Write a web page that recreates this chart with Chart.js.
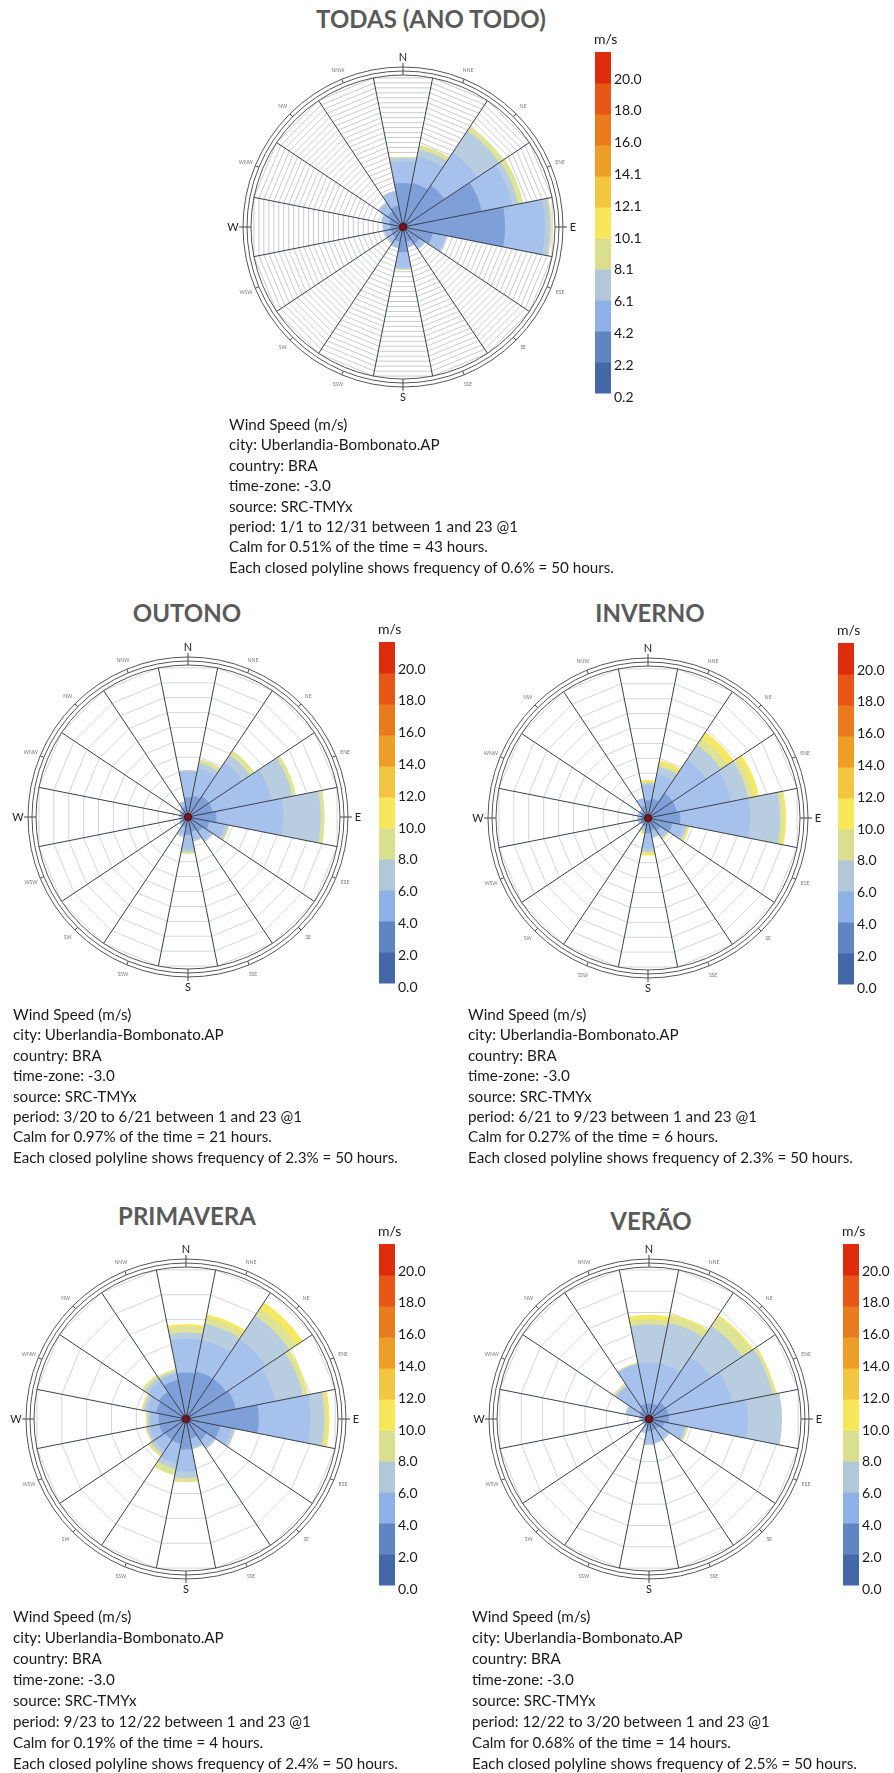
<!DOCTYPE html>
<html>
<head>
<meta charset="utf-8">
<script src="https://cdn.jsdelivr.net/npm/chart.js"></script>
<style>
  body { margin: 0; background: #fff; }
  #page { position: relative; width: 894px; height: 1773px; overflow: hidden; font-family: Lato, 'Open Sans', sans-serif; }
  canvas { position: absolute; }
  .title { position: absolute; font-weight: bold; font-size: 24px; line-height: 24px; color: #5a5a5a; white-space: nowrap; transform: translateX(-50%); }
  .info { position: absolute; font-size: 15.2px; line-height: 20.4px; color: #1a1a1a; white-space: nowrap; }
</style>
</head>
<body>
<div id="page">
  <div class="title" style="left:431px;top:7px">TODAS (ANO TODO)</div>
  <canvas id="roseAno" width="430" height="400" style="left:218px;top:27px"></canvas>
  <div class="info" id="infoAno" style="left:229px;top:414px"></div>

  <div class="title" style="left:187px;top:601px">OUTONO</div>
  <canvas id="roseOutono" width="430" height="400" style="left:3px;top:617px"></canvas>
  <div class="info" id="infoOutono" style="left:13px;top:1004px"></div>

  <div class="title" style="left:650px;top:601px">INVERNO</div>
  <canvas id="roseInverno" width="430" height="400" style="left:463px;top:618px"></canvas>
  <div class="info" id="infoInverno" style="left:468px;top:1004px"></div>

  <div class="title" style="left:187px;top:1204px">PRIMAVERA</div>
  <canvas id="rosePrimavera" width="430" height="400" style="left:1px;top:1219px"></canvas>
  <div class="info" id="infoPrimavera" style="left:13px;top:1606px;line-height:21px"></div>

  <div class="title" style="left:651px;top:1209px">VERÃO</div>
  <canvas id="roseVerao" width="430" height="400" style="left:464px;top:1219px"></canvas>
  <div class="info" id="infoVerao" style="left:472px;top:1606px;line-height:21px"></div>
</div>
<script>
const directions = ['N', 'NNE', 'NE', 'ENE', 'E', 'ESE', 'SE', 'SSE', 'S', 'SSW', 'SW', 'WSW', 'W', 'WNW', 'NW', 'NNW'];

// wedge colours per speed bin (0-2, 2-4, 4-6, 6-8, 8-10, 10-12 m/s)
const binColors = ['#5b7ebe', '#7f9fd9', '#a6c1ec', '#b9cde0', '#dfe398', '#f5e963'];
// colour bar, bottom to top
const barColors = ['#4467a8', '#5f85c3', '#8fb1e8', '#b2c7d8', '#d9df8e', '#f8e75a', '#f4c541', '#ee9d27', '#ea7a1e', '#e75616', '#df2c0c'];
const barTicksAno = ['0.2', '2.2', '4.2', '6.1', '8.1', '10.1', '12.1', '14.1', '16.0', '18.0', '20.0'];
const barTicksEstacao = ['0.0', '2.0', '4.0', '6.0', '8.0', '10.0', '12.0', '14.0', '16.0', '18.0', '20.0'];

// frequency (%) per speed bin, one row per bin, one value per direction
const freqAno = [
  [0.6, 0.6, 0.6, 0.6, 0.7, 0.5, 0.5, 0.4, 0.5, 0.4, 0.4, 0.4, 0.4, 0.4, 0.4, 0.5],
  [4.6, 4.7, 5.3, 8.9, 11.4, 3.1, 1.9, 1.4, 2.5, 1.4, 1.1, 1.1, 1.1, 1.3, 1.8, 2.1],
  [2.6, 3.2, 4.7, 3.7, 4.7, 1.5, 0.7, 0.6, 1.8, 0.7, 0.7, 0.7, 0.8, 0.9, 1.2, 1.7],
  [0.4, 0.9, 3.1, 0.7, 0.6, 0.2, 0.1, 0.1, 0.2, 0.1, 0.1, 0.1, 0.1, 0.1, 0.1, 0.1],
  [0.1, 0.5, 0.6, 0.6, 0.2, 0, 0, 0, 0.1, 0, 0, 0, 0, 0, 0, 0]
];
const freqOutono = [
  [0.6, 0.6, 0.6, 0.6, 0.8, 0.6, 0.6, 0.5, 0.6, 0.5, 0.5, 0.5, 0.5, 0.5, 0.5, 0.5],
  [2.4, 2.7, 3.2, 3.2, 3.5, 2.7, 2.1, 1.8, 2.1, 1.1, 0.6, 0.5, 0.5, 0.5, 0.6, 1.1],
  [3.9, 4.2, 6.1, 9.1, 10.1, 2.4, 1.5, 1.2, 2.1, 1.2, 0.5, 0.3, 0.3, 0.3, 0.5, 0.8],
  [0.2, 0.8, 1.4, 3.2, 5.7, 0.5, 0.3, 0.3, 0.5, 0.3, 0, 0, 0, 0, 0, 0],
  [0, 0.6, 0.8, 0.6, 0.6, 0.2, 0, 0, 0.3, 0, 0, 0, 0, 0, 0, 0]
];
const freqInverno = [
  [0.6, 0.6, 0.6, 0.6, 0.8, 0.6, 0.6, 0.5, 0.6, 0.5, 0.5, 0.5, 0.5, 0.5, 0.5, 0.5],
  [2.1, 2.4, 3.9, 3.9, 4.1, 3.2, 1.7, 1.4, 1.7, 0.8, 0.5, 0.6, 0.6, 0.6, 0.6, 1.4],
  [2.3, 3.8, 6.1, 8.3, 10.6, 1.7, 1.1, 0.9, 2.3, 0.6, 0.3, 0.5, 0.5, 0.5, 0.5, 1.2],
  [0.3, 1.1, 2.7, 2.7, 4.5, 0.5, 0.3, 0.3, 0.5, 0.2, 0, 0, 0, 0, 0, 0],
  [0.2, 0.5, 1.2, 0.8, 0.6, 0.2, 0.2, 0, 0.3, 0.2, 0, 0, 0, 0, 0, 0],
  [0.3, 0.5, 1.1, 0.8, 0.3, 0.2, 0, 0, 0.3, 0.2, 0, 0, 0, 0, 0, 0]
];
const freqPrimavera = [
  [0.5, 0.5, 0.5, 0.5, 0.5, 0.5, 0.5, 0.5, 0.5, 0.5, 0.5, 0.5, 0.5, 0.5, 0.5, 0.5],
  [3.9, 4.1, 4.1, 4.3, 6.4, 2.8, 1.9, 1.4, 2.4, 1.9, 1.9, 2.1, 2.1, 2.4, 2.6, 3.3],
  [3.2, 3.0, 4.5, 3.8, 4.9, 1.1, 0.8, 0.8, 2.1, 1.9, 1.2, 0.9, 0.8, 0.9, 1.2, 0.6],
  [0.6, 1.6, 2.7, 2.7, 1.3, 0.3, 0.2, 0.2, 0.6, 0.5, 0.4, 0.3, 0.2, 0.3, 0.4, 0.2],
  [0.6, 0.6, 0.8, 0.4, 0.3, 0, 0, 0, 0.4, 0.6, 0.3, 0.1, 0.2, 0.2, 0.3, 0.2],
  [0.2, 0.3, 0.7, 0.1, 0.2, 0, 0, 0, 0, 0, 0, 0, 0, 0, 0, 0]
];
const freqVerao = [
  [0.5, 0.5, 0.5, 0.5, 0.5, 0.5, 0.5, 0.5, 0.5, 0.3, 0.3, 0.3, 0.3, 0.3, 0.3, 0.5],
  [1.3, 1.3, 1.8, 1.8, 1.8, 1.3, 0.9, 0.9, 0.9, 0.6, 0.3, 0.3, 0.5, 0.8, 1.0, 1.3],
  [4.7, 4.7, 6.3, 7.4, 9.1, 2.4, 1.3, 1.3, 1.4, 0.7, 0.2, 0.2, 0.3, 1.5, 3.2, 4.6],
  [4.4, 4.8, 4.3, 4.8, 3.9, 0.2, 0.2, 0.2, 0.2, 0.1, 0, 0, 0, 0.2, 0.2, 0.1],
  [0.6, 0.8, 1.3, 0.3, 0, 0.2, 0, 0, 0, 0, 0, 0, 0, 0, 0.2, 0.1],
  [0.5, 0.2, 0.2, 0.1, 0, 0, 0, 0, 0, 0, 0, 0, 0, 0, 0, 0]
];

const infoLines = (period, calmPct, calmHours, step) => [
  'Wind Speed (m/s)',
  'city: Uberlandia-Bombonato.AP',
  'country: BRA',
  'time-zone: -3.0',
  'source: SRC-TMYx',
  'period: ' + period + ' between 1 and 23 @1',
  'Calm for ' + calmPct + '% of the time = ' + calmHours + ' hours.',
  'Each closed polyline shows frequency of ' + step + '% = 50 hours.'
];

function fillInfo(id, period, calmPct, calmHours, step) {
  document.getElementById(id).innerHTML = infoLines(period, calmPct, calmHours, step).join('<br>');
}

// spokes, rim, compass labels and the colour bar
function roseDecor(barDx, barTicks) {
  return {
    id: 'roseDecor',
    afterDatasetsDraw(chart) {
      const r = chart.scales.r;
      const ctx = chart.ctx;
      const cx = r.xCenter, cy = r.yCenter, R = r.drawingArea;
      ctx.save();

      ctx.strokeStyle = '#3b4049';
      ctx.lineWidth = 1;
      directions.forEach((d, i) => {
        const p = r.getPointPosition(i, R);
        ctx.beginPath();
        ctx.moveTo(cx, cy);
        ctx.lineTo(p.x, p.y);
        ctx.stroke();
      });

      ctx.strokeStyle = '#555';
      [R, R + 4, R + 8].forEach(rad => {
        ctx.beginPath();
        ctx.arc(cx, cy, rad, 0, Math.PI * 2);
        ctx.stroke();
      });

      ctx.textAlign = 'center';
      ctx.textBaseline = 'middle';
      directions.forEach((d, i) => {
        const major = i % 4 === 0;
        const a = r.getPointPosition(i, R + (major ? 0 : 4), Math.PI / 16);
        const b = r.getPointPosition(i, R + (major ? 12 : 8), Math.PI / 16);
        ctx.strokeStyle = '#444';
        ctx.beginPath();
        ctx.moveTo(a.x, a.y);
        ctx.lineTo(b.x, b.y);
        ctx.stroke();
        const t = r.getPointPosition(i, R + 18, Math.PI / 16);
        ctx.fillStyle = major ? '#222' : '#777';
        ctx.font = major ? '11px Lato' : '5px Lato';
        ctx.fillText(d, t.x, t.y);
      });

      ctx.fillStyle = '#7b1420';
      ctx.strokeStyle = '#4a0a12';
      ctx.beginPath();
      ctx.arc(cx, cy, 3.5, 0, Math.PI * 2);
      ctx.fill();
      ctx.stroke();

      // colour bar
      const x0 = cx + barDx, top = cy - 175, bottom = cy + 166;
      const seg = (bottom - top) / barColors.length;
      barColors.forEach((c, k) => {
        ctx.fillStyle = c;
        ctx.fillRect(x0, bottom - (k + 1) * seg, 16, seg + 0.5);
      });
      ctx.fillStyle = '#1a1a1a';
      ctx.font = '14px Lato';
      ctx.textAlign = 'left';
      ctx.fillText('m/s', x0 - 1, cy - 188);
      barTicks.forEach((t, k) => {
        ctx.fillText(t, x0 + 19, cy + 170 - k * 31.8);
      });
      ctx.restore();
    }
  };
}

function makeRose(id, freq, step, rings, barDx, barTicks, gridColor) {
  const cum = [];
  let run = directions.map(() => 0);
  freq.forEach(bin => {
    run = run.map((v, i) => v + bin[i]);
    cum.push(run);
  });
  const datasets = cum.map((vals, b) => ({
    data: vals,
    backgroundColor: binColors[b],
    borderWidth: 0
  }));
  return new Chart(document.getElementById(id), {
    type: 'polarArea',
    data: { labels: directions, datasets: datasets },
    options: {
      responsive: false,
      animation: false,
      layout: { padding: { left: 33, right: 93, top: 48, bottom: 48 } },
      plugins: { legend: { display: false }, tooltip: { enabled: false } },
      scales: {
        r: {
          min: 0,
          max: +(step * rings).toFixed(2),
          startAngle: -11.25,
          ticks: { display: false, stepSize: step },
          grid: { circular: false, color: gridColor, lineWidth: 1 },
          angleLines: { display: false },
          pointLabels: { display: false }
        }
      }
    },
    plugins: [roseDecor(barDx, barTicks)]
  });
}

makeRose('roseAno', freqAno, 0.6, 30, 192, barTicksAno, '#cbcbcb');
makeRose('roseOutono', freqOutono, 2.3, 10, 191, barTicksEstacao, '#d6d6d6');
makeRose('roseInverno', freqInverno, 2.3, 10, 190, barTicksEstacao, '#d6d6d6');
makeRose('rosePrimavera', freqPrimavera, 2.4, 6, 193, barTicksEstacao, '#d6d6d6');
makeRose('roseVerao', freqVerao, 2.5, 7, 194, barTicksEstacao, '#d6d6d6');

fillInfo('infoAno', '1/1 to 12/31', '0.51', '43', '0.6');
fillInfo('infoOutono', '3/20 to 6/21', '0.97', '21', '2.3');
fillInfo('infoInverno', '6/21 to 9/23', '0.27', '6', '2.3');
fillInfo('infoPrimavera', '9/23 to 12/22', '0.19', '4', '2.4');
fillInfo('infoVerao', '12/22 to 3/20', '0.68', '14', '2.5');
</script>
</body>
</html>
